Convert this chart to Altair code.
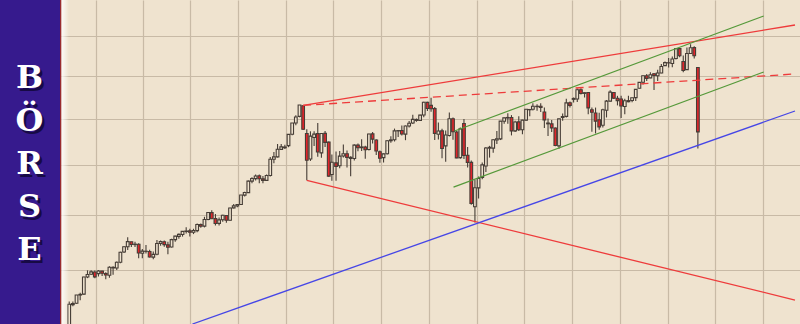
import altair as alt
import pandas as pd

# ---------------- weekly candles (week-ending dates) ----------------
dates = (
    ["2016-11-11", "2016-11-18", "2016-11-25", "2016-12-02", "2016-12-09", "2016-12-16", "2016-12-23", "2016-12-30"]
    + ["2017-01-06", "2017-01-13", "2017-01-20", "2017-01-27", "2017-02-03", "2017-02-10", "2017-02-17", "2017-02-24",
       "2017-03-03", "2017-03-10", "2017-03-17", "2017-03-24", "2017-03-31", "2017-04-07", "2017-04-14", "2017-04-21",
       "2017-04-28", "2017-05-05", "2017-05-12", "2017-05-19", "2017-05-26", "2017-06-02", "2017-06-09", "2017-06-16",
       "2017-06-23", "2017-06-30", "2017-07-07", "2017-07-14", "2017-07-21", "2017-07-28", "2017-08-04", "2017-08-11",
       "2017-08-18", "2017-08-25", "2017-09-01", "2017-09-08", "2017-09-15", "2017-09-22", "2017-09-29", "2017-10-06",
       "2017-10-13", "2017-10-20", "2017-10-27", "2017-11-03", "2017-11-10", "2017-11-17", "2017-11-24", "2017-12-01",
       "2017-12-08", "2017-12-15", "2017-12-22", "2017-12-29"]
    + ["2018-01-05", "2018-01-12", "2018-01-19", "2018-01-26", "2018-02-02", "2018-02-09", "2018-02-16", "2018-02-23",
       "2018-03-02", "2018-03-09", "2018-03-16", "2018-03-23", "2018-03-29", "2018-04-06", "2018-04-13", "2018-04-20",
       "2018-04-27", "2018-05-04", "2018-05-11", "2018-05-18", "2018-05-25", "2018-06-01", "2018-06-08", "2018-06-15",
       "2018-06-22", "2018-06-29", "2018-07-06", "2018-07-13", "2018-07-20", "2018-07-27", "2018-08-03", "2018-08-10",
       "2018-08-17", "2018-08-24", "2018-08-31", "2018-09-07", "2018-09-14", "2018-09-21", "2018-09-28", "2018-10-05",
       "2018-10-12", "2018-10-19", "2018-10-26", "2018-11-02", "2018-11-09", "2018-11-16", "2018-11-23", "2018-11-30",
       "2018-12-07", "2018-12-14", "2018-12-21", "2018-12-28"]
    + ["2019-01-04", "2019-01-11", "2019-01-18", "2019-01-25", "2019-02-01", "2019-02-08", "2019-02-15", "2019-02-22",
       "2019-03-01", "2019-03-08", "2019-03-15", "2019-03-22", "2019-03-29", "2019-04-05", "2019-04-12", "2019-04-18",
       "2019-04-26", "2019-05-03", "2019-05-10", "2019-05-17", "2019-05-24", "2019-05-31", "2019-06-07", "2019-06-14",
       "2019-06-21", "2019-06-28", "2019-07-05", "2019-07-12", "2019-07-19", "2019-07-26", "2019-08-02", "2019-08-09",
       "2019-08-16", "2019-08-23", "2019-08-30", "2019-09-06", "2019-09-13", "2019-09-20", "2019-09-27", "2019-10-04",
       "2019-10-11", "2019-10-18", "2019-10-25", "2019-11-01", "2019-11-08", "2019-11-15", "2019-11-22", "2019-11-29",
       "2019-12-06", "2019-12-13", "2019-12-20", "2019-12-27"]
    + ["2020-01-03", "2020-01-10", "2020-01-17", "2020-01-24", "2020-01-31", "2020-02-07", "2020-02-14", "2020-02-21",
       "2020-02-28"]
)

opens = (
    [17990, 18830, 18880, 19150, 19180, 19760, 19850, 19930]
    + [19873, 19960, 19880, 19820, 20090, 20070, 20270, 20630, 20820, 21000, 20900, 20910, 20590, 20660, 20650, 20450,
       20550, 20940, 21000, 20890, 20810, 21080, 21200, 21270, 21380, 21400, 21350, 21410, 21640, 21580, 21830, 22090,
       21860, 21680, 21820, 21980, 21800, 22270, 22350, 22405, 22770, 22870, 23330, 23430, 23540, 23420, 23360, 23560,
       24230, 24330, 24650, 24750]
    + [24809, 25300, 25800, 26100, 26584, 25337, 24240, 25160, 25330, 24500, 25340, 24960, 23600, 24077, 23960, 24370,
       24460, 24310, 24260, 24830, 24720, 24750, 24640, 25320, 25050, 24550, 24300, 24460, 25020, 25060, 25450, 25470,
       25310, 25670, 25800, 25960, 25920, 26160, 26740, 26600, 26450, 25300, 25450, 24800, 25250, 25990, 25400, 24300,
       25780, 24400, 24100, 22317]
    + [23058, 23480, 23950, 24700, 24700, 25050, 25100, 25880, 26050, 26050, 25450, 25850, 25500, 25930, 26400, 26420,
       26560, 26560, 26300, 25800, 25760, 25580, 24800, 26050, 26100, 26720, 26880, 26900, 27330, 27160, 27200, 26400,
       26250, 25950, 25700, 26380, 26800, 27200, 26930, 26900, 26550, 26820, 26830, 26960, 27400, 27690, 28000, 27900,
       28100, 28000, 28140, 28500]
    + [28640, 28600, 28850, 29350, 28700, 28300, 29100, 29400, 28403]
)

highs = (
    [18934, 18935, 19153, 19226, 19764, 19987, 19988, 19981]
    + [19999, 19973, 19920, 20126, 20125, 20298, 20639, 20840, 21169, 21003, 21000, 20950, 20740, 20888, 20712, 20650,
       21070, 21050, 21050, 21000, 21112, 21225, 21305, 21392, 21535, 21480, 21480, 21681, 21681, 21930, 22100, 22179,
       22036, 21900, 22010, 21990, 22275, 22419, 22416, 22777, 22905, 23350, 23485, 23602, 23602, 23532, 23602, 24327,
       24534, 24876, 24876, 24850]
    + [25310, 25804, 26153, 26620, 26608, 25520, 25432, 25432, 25800, 25350, 25450, 24986, 24430, 24556, 24580, 24858,
       24600, 24360, 24867, 24900, 25086, 24800, 25326, 25402, 25080, 24600, 24475, 25036, 25215, 25553, 25490, 25692,
       25690, 25896, 26167, 26000, 26170, 26769, 26764, 26951, 26530, 25824, 25550, 25470, 26277, 26046, 25450, 25600,
       25980, 24745, 24178, 23381]
    + [23518, 24095, 24750, 24800, 25080, 25441, 25890, 26050, 26241, 26156, 25907, 26109, 25949, 26430, 26440, 26695,
       26656, 26695, 26500, 26000, 25936, 25600, 25990, 26230, 26907, 26780, 26966, 27388, 27399, 27218, 27202, 26500,
       26500, 26260, 26450, 26850, 27307, 27225, 27045, 27046, 26906, 27044, 26960, 27350, 27700, 28010, 28090, 28175,
       28120, 28290, 28582, 28702]
    + [28872, 28958, 29373, 29374, 29000, 29408, 29568, 29470, 28403]
)

lows = (
    [17884, 18780, 18860, 18975, 19160, 19718, 19830, 19719]
    + [19775, 19794, 19677, 19733, 19831, 20000, 20230, 20600, 20700, 20810, 20813, 20412, 20413, 20580, 20440, 20379,
       20520, 20860, 20820, 20553, 20790, 21000, 21112, 21190, 21300, 21197, 21283, 21350, 21520, 21530, 21800, 21843,
       21600, 21600, 21740, 21709, 21780, 22250, 22300, 22390, 22720, 22860, 23240, 23350, 23240, 23242, 23340, 23520,
       24067, 24300, 24630, 24660]
    + [24741, 25256, 25700, 26057, 25490, 23360, 24160, 24794, 24338, 24290, 24748, 23509, 23345, 23344, 23860, 24300,
       23888, 23531, 24180, 24573, 24578, 24249, 24600, 24904, 24408, 24084, 24093, 24430, 24930, 24987, 25185, 25250,
       25044, 25600, 25760, 25857, 25900, 26062, 26339, 26306, 25053, 25078, 24268, 24122, 25200, 25064, 24268, 24250,
       24242, 23881, 22397, 21713]
    + [22638, 23400, 23700, 24300, 24500, 24883, 25050, 25770, 25766, 25252, 25400, 25450, 25306, 25900, 26107, 26370,
       26356, 26302, 25580, 25222, 25400, 24780, 24680, 25900, 26050, 26500, 26730, 26760, 27110, 26970, 26200, 25410,
       25339, 25500, 25600, 26050, 26780, 26900, 26600, 26025, 26200, 26750, 26740, 26800, 27390, 27580, 27751, 27880,
       27325, 27750, 28120, 28480]
    + [28400, 28418, 28800, 28920, 28169, 28280, 29080, 28850, 24681]
)

closes = (
    [18847, 18868, 19152, 19171, 19757, 19843, 19934, 19763]
    + [19964, 19886, 19827, 20094, 20071, 20269, 20624, 20822, 21005, 20903, 20914, 20597, 20663, 20656, 20453, 20548,
       20941, 21007, 20897, 20805, 21080, 21206, 21272, 21384, 21395, 21350, 21414, 21638, 21580, 21830, 22092, 21858,
       21675, 21814, 21988, 21798, 22268, 22350, 22405, 22774, 22871, 23329, 23434, 23539, 23422, 23358, 23558, 24231,
       24329, 24652, 24754, 24719]
    + [25296, 25803, 26071, 26617, 25521, 24191, 25219, 25310, 24538, 25336, 24947, 23533, 24103, 23933, 24360, 24463,
       24311, 24263, 24831, 24715, 24753, 24635, 25317, 25090, 24581, 24271, 24456, 25019, 25058, 25451, 25463, 25313,
       25669, 25790, 25965, 25917, 26155, 26744, 26458, 26447, 25340, 25444, 24688, 25271, 25989, 25413, 24286, 25538,
       24389, 24101, 22445, 23062]
    + [23433, 23996, 24706, 24737, 25064, 25106, 25883, 26031, 26026, 25450, 25849, 25502, 25929, 26425, 26412, 26559,
       26543, 26505, 25942, 25764, 25586, 24815, 25984, 26090, 26719, 26600, 26922, 27332, 27154, 27192, 26485, 26287,
       25886, 25629, 26403, 26797, 27220, 26935, 26820, 26573, 26817, 26770, 26958, 27347, 27681, 28005, 27876, 28051,
       28015, 28135, 28455, 28645]
    + [28634, 28824, 29348, 28990, 28256, 29103, 29398, 28992, 25409]
)

# ---------------- trend lines (start date, start value, end date, end value) ----------------
red_start = ["2018-02-02", "2018-02-09"]
red_start_val = [26600, 23360]
red_end = ["2020-09-01", "2020-09-01"]
red_end_val = [30577, 18985]

dash_start = ["2018-02-02"]
dash_start_val = [26600]
dash_end = ["2020-09-01"]
dash_end_val = [28089]

green_start = ["2018-11-19", "2018-11-17"]
green_start_val = [25446, 23091]
green_end = ["2020-07-03", "2020-07-03"]
green_end_val = [31058, 28185]

blue_start = ["2017-07-05"]
blue_start_val = [18212]
blue_end = ["2020-09-01"]
blue_end_val = [26343]

# grid positions
grid_levels = [20000, 22000, 24000, 26000, 28000, 30000]
quarters = ["2017-01-01", "2017-04-01", "2017-07-01", "2017-10-01", "2018-01-01", "2018-04-01", "2018-07-01",
            "2018-10-01", "2019-01-01", "2019-04-01", "2019-07-01", "2019-10-01", "2020-01-01", "2020-04-01",
            "2020-07-01"]
letters = ["B", "Ö", "R", "S", "E"]

# ---------------- styling ----------------
BG = "#efe3cf"
GRID = "#c8baa6"
INK = "#463d36"
RED = "#e2252b"
LRED = "#ee3b3b"
GREEN = "#55993a"
BLUE = "#4646e6"
PURPLE = "#361a8d"
W, H = 800, 324


def dt(s):
    y, m, d = map(int, s.split("-"))
    return alt.DateTime(year=y, month=m, date=d, utc=True)


x_scale = alt.Scale(type="utc", domain=[dt("2016-07-11"), dt("2020-09-01")])
y_scale = alt.Scale(type="log", domain=[18212, 31931], nice=False)
x_axis = alt.Axis(values=[dt(q) for q in quarters], grid=True, labels=False, ticks=False, domain=False,
                  title=None, gridColor=GRID, gridWidth=1.2)
y_axis = alt.Axis(values=grid_levels, grid=True, labels=False, ticks=False, domain=False,
                  title=None, gridColor=GRID, gridWidth=1.2)

df = pd.DataFrame({"date": dates, "open": opens, "high": highs, "low": lows, "close": closes})

base = alt.Chart(df).encode(x=alt.X("date:T", scale=x_scale, axis=x_axis))
wicks = base.mark_rule(color=INK, strokeWidth=1.1, clip=True).encode(
    y=alt.Y("low:Q", scale=y_scale, axis=y_axis), y2="high:Q")
bodies = base.mark_bar(size=2.7, stroke=INK, strokeWidth=1.1, clip=True).encode(
    y=alt.Y("open:Q", scale=y_scale, axis=y_axis), y2="close:Q",
    fill=alt.condition("datum.close >= datum.open", alt.value(BG), alt.value(RED)))


def trend(starts, svals, ends, evals, color, dash=None):
    d = pd.DataFrame({"d1": starts, "p1": svals, "d2": ends, "p2": evals})
    kw = dict(color=color, strokeWidth=1.3, clip=True)
    if dash:
        kw["strokeDash"] = dash
    return alt.Chart(d).mark_rule(**kw).encode(
        x=alt.X("d1:T", scale=x_scale, axis=x_axis), x2="d2:T",
        y=alt.Y("p1:Q", scale=y_scale, axis=y_axis), y2="p2:Q")


red_lines = trend(red_start, red_start_val, red_end, red_end_val, LRED)
dash_line = trend(dash_start, dash_start_val, dash_end, dash_end_val, LRED, [8, 5])
green_lines = trend(green_start, green_start_val, green_end, green_end_val, GREEN)
blue_line = trend(blue_start, blue_start_val, blue_end, blue_end_val, BLUE)

one = pd.DataFrame({"k": [0]})
panel = alt.Chart(one).mark_rect(color=PURPLE).encode(
    x=alt.value(0), x2=alt.value(60), y=alt.value(0), y2=alt.value(H))
border = alt.Chart(one).mark_rect(color="#9a2c30").encode(
    x=alt.value(60), x2=alt.value(61.5), y=alt.value(0), y2=alt.value(H))
glow = alt.Chart(one).mark_rect(
    color=alt.LinearGradient(gradient="linear", x1=0, x2=1, y1=0, y2=0,
                             stops=[alt.GradientStop(color="rgba(255,255,255,0.85)", offset=0),
                                    alt.GradientStop(color="rgba(255,255,255,0)", offset=1)])
).encode(x=alt.value(61.5), x2=alt.value(69), y=alt.value(0), y2=alt.value(H))

word = "\n".join(letters)
txt_kw = dict(text=word, lineBreak="\n", lineHeight=43, font="DejaVu Serif", fontWeight="bold",
              fontSize=32, align="center", baseline="alphabetic")
shadow = alt.Chart(one).mark_text(color="#0a0428", opacity=0.7, **txt_kw).encode(
    x=alt.value(32), y=alt.value(90.5))
letters_txt = alt.Chart(one).mark_text(color="white", **txt_kw).encode(
    x=alt.value(29.5), y=alt.value(88))

chart = alt.layer(
    wicks, bodies, red_lines, dash_line, green_lines, blue_line,
    panel, border, glow, shadow, letters_txt
).properties(
    width=W, height=H, background=BG, padding=0,
    autosize=alt.AutoSizeParams(type="none")
).configure_view(stroke=None)

chart.save("out.html", embed_options={"renderer": "svg", "actions": False})
